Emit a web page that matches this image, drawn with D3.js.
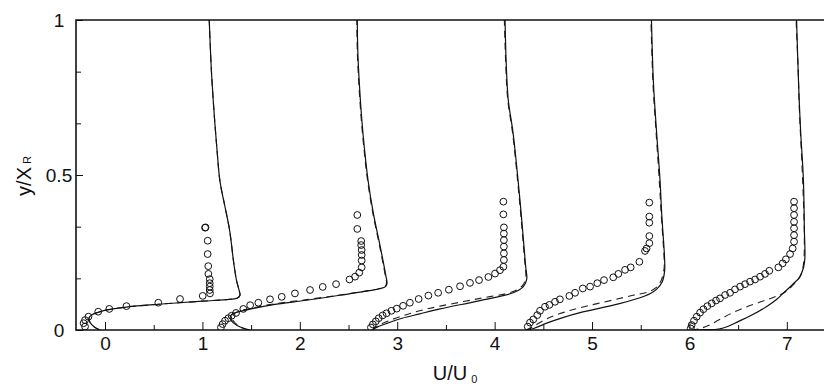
<!DOCTYPE html>
<html>
<head>
<meta charset="utf-8">
<script src="https://cdn.jsdelivr.net/npm/d3@7"></script>
<style>
  html, body { margin: 0; padding: 0; background: #fff; }
  svg { display: block; }
  text { font-family: "Liberation Sans", Arial, Helvetica, sans-serif; fill: #111; }
</style>
</head>
<body>
<svg id="chart" width="824" height="384"></svg>
<script>
// ---------------- DATA (plotted U/U0 incl. station offset, y/XR) ----------------
const xMajorTicks = [0, 1, 2, 3, 4, 5, 6, 7];
const xMinorTicks = [0.5, 1.5, 2.5, 3.5, 4.5, 5.5, 6.5];
const yMajorTicks = [0, 0.5, 1];
const yTickLabels = ["0", "0.5", "1"];
const yMinorTicks = [1/6, 1/3, 2/3, 5/6];

// Station 1
const exp1 = [[-0.205,0.011],[-0.22,0.022],[-0.205,0.032],[-0.17,0.043],[-0.07,0.059],[0.044,0.068],[0.22,0.077],[0.547,0.088],[0.77,0.1],[1.003,0.11],[1.078,0.118],[1.075,0.129],[1.075,0.14],[1.075,0.151],[1.075,0.164],[1.061,0.181],[1.06,0.206],[1.054,0.245],[1.054,0.288],[1.027,0.33],[1.032,0.331]];
const solid1 = [[-0.05,0],[-0.11,0.01],[-0.155,0.025],[-0.165,0.038],[-0.13,0.05],[-0.06,0.058],[0.02,0.065],[0.22,0.074],[0.55,0.083],[1.0,0.093],[1.28,0.099],[1.36,0.103],[1.385,0.112],[1.375,0.13],[1.35,0.16],[1.32,0.22],[1.28,0.32],[1.23,0.4],[1.18,0.48],[1.15,0.58],[1.12,0.7],[1.095,0.82],[1.08,0.92],[1.07,1.0]];
const dashed1 = [[-0.05,0],[-0.11,0.01],[-0.155,0.025],[-0.165,0.038],[-0.13,0.05],[-0.06,0.058],[0.02,0.065],[0.22,0.074],[0.55,0.083],[1.0,0.093],[1.28,0.099],[1.36,0.103],[1.385,0.112],[1.375,0.13],[1.35,0.16],[1.32,0.22],[1.28,0.32],[1.23,0.4],[1.18,0.48],[1.15,0.58],[1.12,0.7],[1.095,0.82],[1.08,0.92],[1.07,1.0]];

// Station 2
const exp2 = [[1.19,0.008],[1.208,0.019],[1.232,0.03],[1.266,0.038],[1.30,0.046],[1.345,0.055],[1.42,0.068],[1.49,0.08],[1.574,0.088],[1.694,0.099],[1.814,0.107],[1.95,0.118],[2.105,0.129],[2.235,0.139],[2.372,0.148],[2.51,0.163],[2.567,0.172],[2.61,0.185],[2.635,0.202],[2.635,0.224],[2.635,0.242],[2.635,0.258],[2.63,0.274],[2.63,0.287],[2.59,0.326],[2.59,0.371]];
const solid2 = [[1.49,0],[1.4,0.008],[1.32,0.022],[1.285,0.038],[1.3,0.05],[1.386,0.06],[1.5,0.068],[1.728,0.082],[2.07,0.096],[2.41,0.112],[2.7,0.126],[2.82,0.133],[2.88,0.14],[2.895,0.15],[2.88,0.18],[2.825,0.27],[2.755,0.376],[2.70,0.484],[2.665,0.58],[2.635,0.683],[2.61,0.8],[2.595,0.9],[2.59,1.0]];
const dashed2 = [[1.47,0],[1.39,0.01],[1.33,0.025],[1.3,0.04],[1.32,0.052],[1.39,0.062],[1.5,0.07],[1.728,0.084],[2.07,0.098],[2.41,0.113],[2.7,0.127],[2.82,0.134],[2.88,0.142],[2.89,0.152],[2.875,0.18],[2.82,0.27],[2.75,0.376],[2.695,0.484],[2.66,0.58],[2.63,0.683],[2.605,0.8],[2.59,0.9],[2.585,1.0]];

// Station 3
const exp3 = [[2.73,0.008],[2.75,0.018],[2.78,0.028],[2.81,0.038],[2.85,0.047],[2.89,0.054],[2.94,0.062],[2.995,0.069],[3.06,0.078],[3.13,0.088],[3.22,0.1],[3.32,0.111],[3.42,0.12],[3.53,0.13],[3.645,0.141],[3.747,0.152],[3.84,0.161],[3.936,0.171],[4.004,0.182],[4.055,0.193],[4.09,0.204],[4.095,0.226],[4.095,0.247],[4.095,0.269],[4.095,0.29],[4.095,0.311],[4.095,0.331],[4.09,0.373],[4.09,0.414]];
const solid3 = [[2.74,0],[2.8,0.01],[2.9,0.022],[3.05,0.038],[3.23,0.052],[3.44,0.068],[3.85,0.095],[4.19,0.12],[4.295,0.14],[4.33,0.165],[4.32,0.2],[4.31,0.237],[4.26,0.419],[4.19,0.634],[4.14,0.742],[4.12,0.85],[4.107,1.0]];
const dashed3 = [[2.74,0],[2.8,0.013],[2.9,0.028],[3.05,0.045],[3.23,0.062],[3.44,0.077],[3.85,0.102],[4.19,0.124],[4.29,0.145],[4.32,0.17],[4.315,0.2],[4.305,0.237],[4.255,0.419],[4.185,0.634],[4.135,0.742],[4.115,0.85],[4.10,1.0]];

// Station 4
const exp4 = [[4.34,0.011],[4.363,0.024],[4.397,0.034],[4.438,0.048],[4.466,0.062],[4.517,0.075],[4.562,0.081],[4.62,0.091],[4.67,0.099],[4.767,0.11],[4.826,0.12],[4.905,0.134],[4.98,0.14],[5.054,0.151],[5.123,0.161],[5.218,0.17],[5.27,0.181],[5.339,0.194],[5.397,0.202],[5.486,0.22],[5.544,0.255],[5.56,0.263],[5.588,0.28],[5.588,0.303],[5.588,0.346],[5.588,0.366],[5.588,0.411]];
const solid4 = [[4.32,0],[4.4,0.005],[4.534,0.022],[4.7,0.04],[4.877,0.056],[5.218,0.08],[5.45,0.1],[5.6,0.118],[5.664,0.132],[5.72,0.155],[5.745,0.19],[5.745,0.23],[5.715,0.376],[5.698,0.484],[5.66,0.65],[5.63,0.8],[5.61,1.0]];
const dashed4 = [[4.32,0],[4.4,0.012],[4.534,0.036],[4.7,0.056],[4.877,0.072],[5.218,0.097],[5.42,0.112],[5.57,0.122],[5.65,0.135],[5.71,0.16],[5.74,0.2],[5.74,0.23],[5.71,0.376],[5.69,0.484],[5.655,0.65],[5.625,0.8],[5.605,1.0]];

// Station 5
const exp5 = [[6.013,0.005],[6.023,0.016],[6.047,0.03],[6.075,0.043],[6.109,0.056],[6.143,0.067],[6.184,0.077],[6.229,0.086],[6.273,0.095],[6.314,0.102],[6.366,0.113],[6.417,0.12],[6.468,0.131],[6.52,0.14],[6.571,0.148],[6.622,0.156],[6.674,0.163],[6.725,0.172],[6.776,0.181],[6.82,0.191],[6.913,0.202],[6.957,0.215],[6.99,0.228],[7.033,0.245],[7.06,0.263],[7.074,0.285],[7.074,0.306],[7.074,0.328],[7.074,0.349],[7.074,0.371],[7.074,0.393],[7.074,0.414]];
const solid5 = [[6.02,0],[6.15,0.001],[6.3,0.003],[6.4,0.012],[6.5,0.027],[6.62,0.045],[6.79,0.075],[6.9,0.1],[6.96,0.118],[7.07,0.15],[7.13,0.17],[7.17,0.2],[7.185,0.23],[7.18,0.323],[7.17,0.484],[7.14,0.65],[7.12,0.8],[7.10,1.0]];
const dashed5 = [[6.02,0],[6.1,0.004],[6.2,0.015],[6.3,0.032],[6.42,0.052],[6.55,0.07],[6.725,0.09],[6.86,0.105],[6.98,0.122],[7.08,0.15],[7.14,0.175],[7.17,0.21],[7.18,0.3],[7.16,0.5],[7.13,0.7],[7.115,0.85],[7.095,1.0]];

const experiments = [exp1, exp2, exp3, exp4, exp5];
const solidLines = [solid1, solid2, solid3, solid4, solid5];
const dashedLines = [dashed1, dashed2, dashed3, dashed4, dashed5];

// ---------------- DRAWING ----------------
const svg = d3.select("#chart");
const pLeft = 76, pTop = 20, pBottom = 330, pRight = 826;

const x = d3.scaleLinear().domain([-0.3, 7.4]).range([75.8, 825.8]);
const y = d3.scaleLinear().domain([0, 1]).range([pBottom, pTop]);

svg.append("defs").append("clipPath").attr("id", "plotclip")
  .append("rect").attr("x", pLeft).attr("y", pTop - 1).attr("width", pRight - pLeft).attr("height", pBottom - pTop + 1);

const plot = svg.append("g").attr("clip-path", "url(#plotclip)");

const line = d3.line().x(d => x(d[0])).y(d => y(d[1])).curve(d3.curveCatmullRom.alpha(0.5));

plot.selectAll("path.dashed").data(dashedLines).join("path")
  .attr("class", "dashed")
  .attr("d", line).attr("fill", "none").attr("stroke", "#222")
  .attr("stroke-width", 1.1).attr("stroke-dasharray", "7,5");

plot.selectAll("path.solid").data(solidLines).join("path")
  .attr("class", "solid")
  .attr("d", line).attr("fill", "none").attr("stroke", "#111")
  .attr("stroke-width", 1.2);

experiments.forEach(ex => {
  plot.append("g").selectAll("circle").data(ex).join("circle")
    .attr("cx", d => x(d[0])).attr("cy", d => y(d[1])).attr("r", 3.4)
    .attr("fill", "none").attr("stroke", "#111").attr("stroke-width", 1);
});

// Axes (ticks inward)
const fontSize = 19;
const gxMinor = svg.append("g").attr("transform", `translate(0,${pBottom})`)
  .call(d3.axisBottom(x).tickValues(xMinorTicks).tickSize(-5).tickFormat(""));
const gx = svg.append("g").attr("transform", `translate(0,${pBottom})`)
  .call(d3.axisBottom(x).tickValues(xMajorTicks).tickSize(-8).tickPadding(7).tickFormat(d3.format("d")));
const gyMinor = svg.append("g").attr("transform", `translate(${pLeft},0)`)
  .call(d3.axisLeft(y).tickValues(yMinorTicks).tickSize(-5).tickFormat(""));
const gy = svg.append("g").attr("transform", `translate(${pLeft},0)`)
  .call(d3.axisLeft(y).tickValues(yMajorTicks).tickSize(-7).tickPadding(5)
    .tickFormat((d, i) => yTickLabels[i]));

[gxMinor, gx, gyMinor, gy].forEach(g => {
  g.select(".domain").remove();
  g.selectAll(".tick line").attr("stroke", "#111").attr("stroke-width", 1);
  g.selectAll("text").attr("font-size", fontSize).attr("font-family", "Liberation Sans, Arial, sans-serif").attr("fill", "#111");
});
// y tick labels centred (as in reference)
gy.selectAll(".tick text").attr("text-anchor", "middle").attr("x", -17);

// Frame
svg.append("path")
  .attr("d", `M${pRight},${pTop}H${pLeft}V${pBottom}H${pRight}`)
  .attr("fill", "none").attr("stroke", "#111").attr("stroke-width", 1.6);

// Axis titles
const xt = svg.append("text").attr("x", 455).attr("y", 380).attr("text-anchor", "middle")
  .attr("font-size", 20);
xt.append("tspan").text("U/U");
xt.append("tspan").attr("font-size", 11).attr("dx", 4).attr("dy", 3).text("0");

const yt = svg.append("text").attr("transform", "translate(31,176) rotate(-90)")
  .attr("text-anchor", "middle").attr("font-size", 20);
yt.append("tspan").text("y/X");
yt.append("tspan").attr("font-size", 11).attr("dx", 3).attr("dy", 0).text("R");
</script>
</body>
</html>
